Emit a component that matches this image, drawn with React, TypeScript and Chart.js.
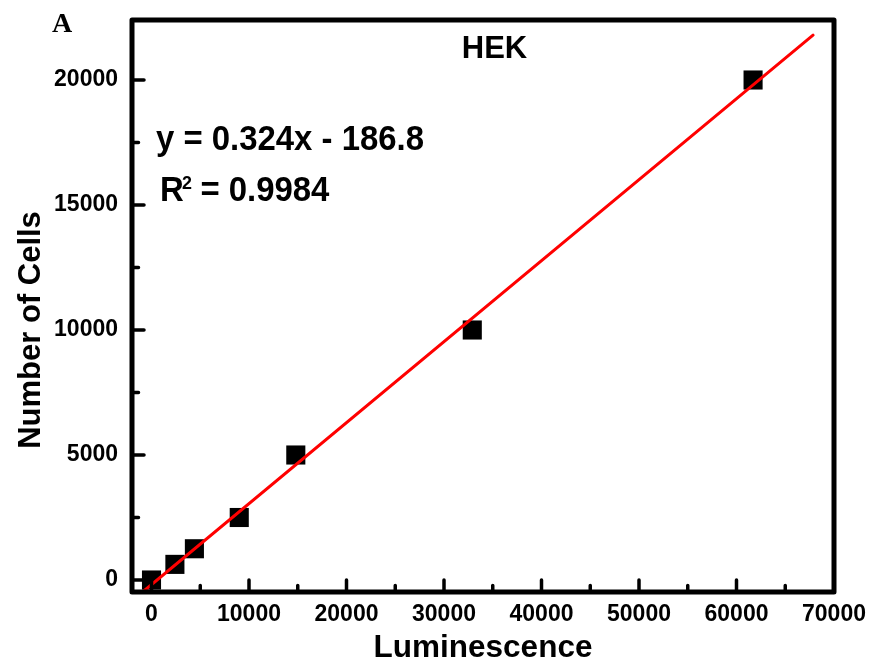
import React, { useEffect, useRef } from "react";
import { Chart, registerables } from "chart.js";

Chart.register(...registerables);

// ---- data ----
const luminescence = [0, 2400, 4400, 9000, 14800, 32900, 61700];
const cellCounts = [0, 625, 1250, 2500, 5000, 10000, 20000];
const fitX = [-1000, 67850];
const fitY = [-510.8, 21796.6];
const xTickValues = [0, 10000, 20000, 30000, 40000, 50000, 60000, 70000];
const xMinorTicks = [5000, 15000, 25000, 35000, 45000, 55000, 65000];
const yTickValues = [0, 5000, 10000, 15000, 20000];
const yMinorTicks = [2500, 7500, 12500, 17500];
const chartTitle = "HEK";
const xTitle = "Luminescence";
const yTitle = "Number of Cells";
const equationText = "y = 0.324x - 186.8";
const r2Label = "R";
const r2Sup = "2";
const r2Value = " = 0.9984";
const panelLabel = "A";

const SANS = '"Liberation Sans", Arial, sans-serif';
const SERIF = '"Liberation Serif", "Times New Roman", serif';

const decorPlugin = {
  id: "decor",
  afterDraw(chart: any) {
    const ctx = chart.ctx as CanvasRenderingContext2D;
    const { left, top, right, bottom } = chart.chartArea;
    const xs = chart.scales.x;
    const ys = chart.scales.y;
    ctx.save();
    ctx.strokeStyle = "#000";
    ctx.fillStyle = "#000";
    // ticks (inward)
    ctx.lineWidth = 3.5;
    ctx.lineCap = "round";
    ctx.beginPath();
    xTickValues.forEach((v) => {
      const p = xs.getPixelForValue(v);
      ctx.moveTo(p, bottom);
      ctx.lineTo(p, bottom - 12);
    });
    xMinorTicks.forEach((v) => {
      const p = xs.getPixelForValue(v);
      ctx.moveTo(p, bottom);
      ctx.lineTo(p, bottom - 6.5);
    });
    yTickValues.forEach((v) => {
      const p = ys.getPixelForValue(v);
      ctx.moveTo(left, p);
      ctx.lineTo(left + 12, p);
    });
    yMinorTicks.forEach((v) => {
      const p = ys.getPixelForValue(v);
      ctx.moveTo(left, p);
      ctx.lineTo(left + 6.5, p);
    });
    ctx.stroke();
    // frame
    ctx.lineWidth = 5;
    ctx.lineJoin = "round";
    ctx.strokeRect(left, top, right - left, bottom - top);

    // title
    ctx.textBaseline = "alphabetic";
    ctx.textAlign = "center";
    ctx.font = `bold 31px ${SANS}`;
    ctx.fillText(chartTitle, 494.5, 58);

    // equation
    ctx.textAlign = "left";
    ctx.save();
    ctx.translate(156, 150);
    ctx.scale(0.94, 1);
    ctx.font = `bold 35px ${SANS}`;
    ctx.fillText(equationText, 0, 0);
    ctx.restore();

    ctx.save();
    ctx.translate(160, 201);
    ctx.scale(0.94, 1);
    ctx.font = `bold 35px ${SANS}`;
    ctx.fillText(r2Label, 0, 0);
    const rw = ctx.measureText(r2Label).width;
    ctx.font = `bold 19px ${SANS}`;
    ctx.fillText(r2Sup, rw - 2, -12.5);
    ctx.font = `bold 35px ${SANS}`;
    ctx.fillText(r2Value, rw + 8, 0);
    ctx.restore();

    // axis titles
    ctx.textAlign = "center";
    ctx.font = `bold 31.5px ${SANS}`;
    ctx.fillText(xTitle, (left + right) / 2, 657);
    ctx.save();
    ctx.translate(40, 330);
    ctx.rotate(-Math.PI / 2);
    ctx.font = `bold 31px ${SANS}`;
    ctx.fillText(yTitle, 0, 0);
    ctx.restore();

    // panel label
    ctx.textAlign = "left";
    ctx.font = `bold 28px ${SERIF}`;
    ctx.fillText(panelLabel, 52, 32);
    ctx.restore();
  },
};

export default function App() {
  const ref = useRef<HTMLCanvasElement | null>(null);
  useEffect(() => {
    if (!ref.current) return;
    const tickFont = { family: SANS, size: 23, weight: "bold" as const };
    const chart = new Chart(ref.current, {
      type: "scatter",
      data: {
        datasets: [
          {
            label: "fit",
            data: fitX.map((x, i) => ({ x, y: fitY[i] })),
            showLine: true,
            borderColor: "#ff0000",
            backgroundColor: "#ff0000",
            borderWidth: 3,
            borderCapStyle: "round",
            pointRadius: 0,
            order: 0,
          },
          {
            label: "data",
            data: luminescence.map((x, i) => ({ x, y: cellCounts[i] })),
            pointStyle: "rect",
            pointRadius: 13.5,
            backgroundColor: "#000",
            borderColor: "#000",
            borderWidth: 0,
            order: 1,
          },
        ],
      },
      options: {
        responsive: false,
        animation: false,
        layout: { padding: { top: 20, right: 39, left: 0, bottom: 0 } },
        plugins: { legend: { display: false }, tooltip: { enabled: false } },
        scales: {
          x: {
            type: "linear",
            min: -2000,
            max: 70000,
            afterBuildTicks: (s: any) => {
              s.ticks = xTickValues.map((v) => ({ value: v }));
            },
            afterFit: (s: any) => {
              s.height = 75;
              s.paddingLeft = 0;
              s.paddingRight = 0;
              s.paddingTop = 0;
              s.paddingBottom = 0;
            },
            ticks: {
              font: tickFont,
              color: "#000",
              padding: 9,
              maxRotation: 0,
              autoSkip: false,
              callback: (v: any) => String(v),
            },
            grid: { display: false, drawTicks: false },
            border: { display: false },
          },
          y: {
            type: "linear",
            min: -480,
            max: 22400,
            afterBuildTicks: (s: any) => {
              s.ticks = yTickValues.map((v) => ({ value: v }));
            },
            afterFit: (s: any) => {
              s.width = 132;
              s.paddingLeft = 0;
              s.paddingRight = 0;
              s.paddingTop = 0;
              s.paddingBottom = 0;
            },
            ticks: {
              font: tickFont,
              color: "#000",
              padding: 14,
              autoSkip: false,
              callback: (v: any) => String(v),
            },
            grid: { display: false, drawTicks: false },
            border: { display: false },
          },
        },
      },
      plugins: [decorPlugin],
    } as any);
    return () => chart.destroy();
  }, []);
  return (
    <div style={{ position: "absolute", left: 0, top: 0, width: 873, height: 667, background: "#fff" }}>
      <canvas ref={ref} width={873} height={667} style={{ display: "block" }} />
    </div>
  );
}
